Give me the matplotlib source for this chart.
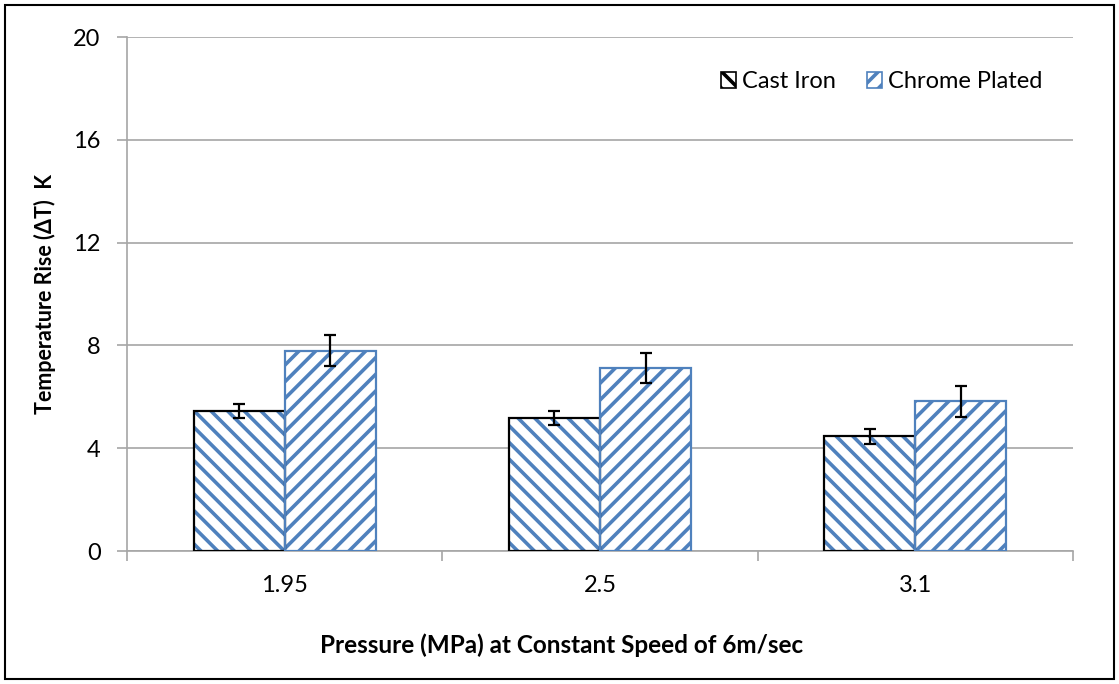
import matplotlib
matplotlib.use("Agg")
import matplotlib.pyplot as plt
from matplotlib.patches import Rectangle, Patch
import numpy as np

# Data
pressures = ["1.95", "2.5", "3.1"]
cast_iron = [5.44, 5.18, 4.46]
chrome_plated = [7.80, 7.11, 5.82]
cast_iron_err = [0.28, 0.28, 0.28]
chrome_plated_err = [0.59, 0.59, 0.59]
series_names = ["Cast Iron", "Chrome Plated"]
y_ticks = [0, 4, 8, 12, 16, 20]

BLUE = "#4F81BD"
GRID = "#A6A6A6"
FONT = "Lato"

plt.rcParams["font.family"] = [FONT, "DejaVu Sans"]
plt.rcParams["hatch.linewidth"] = 2.6

fig = plt.figure(figsize=(11.19, 6.84), dpi=100)
ax = fig.add_axes([127 / 1119, 1 - 551 / 684, (1073 - 127) / 1119, (551 - 37) / 684])

x = np.arange(len(pressures))
w = 0.289

# Hatched fills (hatch colour follows the edge colour), then outlines on top
ax.bar(x - w / 2, cast_iron, w, color="white", edgecolor=BLUE, hatch="\\\\", linewidth=0, zorder=2)
ax.bar(x + w / 2, chrome_plated, w, color="white", edgecolor=BLUE, hatch="//", linewidth=0, zorder=2)
ax.bar(x - w / 2, cast_iron, w, fill=False, edgecolor="black", linewidth=1.6, zorder=3)
ax.bar(x + w / 2, chrome_plated, w, fill=False, edgecolor=BLUE, linewidth=1.6, zorder=3)

ax.errorbar(x - w / 2, cast_iron, yerr=cast_iron_err, fmt="none", ecolor="black",
            elinewidth=1.6, capsize=4.5, capthick=1.6, zorder=4)
ax.errorbar(x + w / 2, chrome_plated, yerr=chrome_plated_err, fmt="none", ecolor="black",
            elinewidth=1.6, capsize=4.5, capthick=1.6, zorder=4)

ax.set_xlim(-0.5, 2.5)
ax.set_ylim(0, 20)
ax.set_yticks(y_ticks)
ax.set_yticklabels([str(t) for t in y_ticks], fontsize=17)
ax.yaxis.grid(True, color=GRID, linewidth=1.2, zorder=0)
ax.set_axisbelow(True)

# Category labels centred between boundary ticks
ax.set_xticks([-0.5, 0.5, 1.5, 2.5])
ax.set_xticklabels([])
ax.set_xticks(x, minor=True)
ax.set_xticklabels(pressures, minor=True, fontsize=17)
ax.tick_params(axis="x", which="minor", length=0, pad=17)
ax.tick_params(axis="x", which="major", length=7, width=1.2, color=GRID, direction="out")
ax.tick_params(axis="y", length=7, width=1.2, color=GRID, direction="out", pad=12)

for side in ("top", "right"):
    ax.spines[side].set_visible(False)
for side in ("left", "bottom"):
    ax.spines[side].set_color(GRID)
    ax.spines[side].set_linewidth(1.2)

ax.set_ylabel("Temperature Rise (ΔT)  K", fontsize=15.5, fontweight="bold", labelpad=12)
fig.text(562 / 1119, 1 - 645 / 684, "Pressure (MPa) at Constant Speed of 6m/sec",
         ha="center", va="center", fontsize=17.5, fontweight="bold")

handles = [
    Patch(facecolor="white", edgecolor="black", hatch="\\\\", linewidth=1.2),
    Patch(facecolor="white", edgecolor=BLUE, hatch="//", linewidth=1.2),
]
leg = ax.legend(handles, series_names, loc="upper right", bbox_to_anchor=(0.99, 0.975),
                ncol=2, frameon=False, fontsize=17, handlelength=0.65, handleheight=0.65,
                handletextpad=0.25, columnspacing=1.3)

# Outer chart border
fig.add_artist(Rectangle((5 / 1119, 5 / 684), 1 - 10 / 1119, 1 - 10 / 684,
                         transform=fig.transFigure, fill=False, edgecolor="black", linewidth=1.5))

fig.savefig("out.png", dpi=100)
